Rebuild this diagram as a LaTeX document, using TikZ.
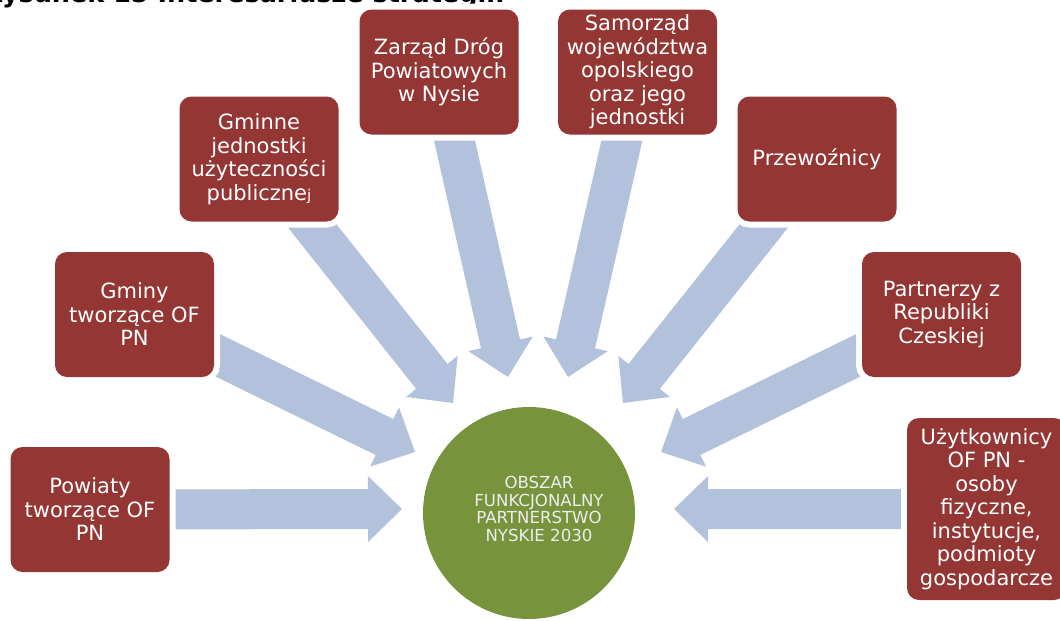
\documentclass[tikz,border=0pt]{standalone}
\usepackage{fontspec}
\setmainfont{DejaVu Sans}
\usetikzlibrary{calc}
\pgfdeclarelayer{background}
\pgfsetlayers{background,main}

\definecolor{boxred}{HTML}{943634}
\definecolor{hubgreen}{HTML}{77933C}
\definecolor{arrowblue}{HTML}{B3C2DC}

\tikzset{
  stakeholder/.style={rectangle, rounded corners=12pt, fill=boxred, text=white,
    align=center, minimum width=159pt, minimum height=125pt, inner sep=1pt,
    font=\fontsize{21}{23.5}\selectfont,
    preaction={draw=white, line width=12pt}},
  hub/.style={circle, fill=hubgreen, minimum size=212pt, inner sep=0pt},
  hublabel/.style={text=white!93!black, align=center, inner sep=0pt,
    font=\fontsize{16.6}{17.6}\selectfont},
  flow/.style={fill=arrowblue},
  caption/.style={anchor=base west, font=\bfseries\fontsize{25.5}{26}\selectfont},
}

% block arrow from the centre of #1 to the point #2
\newcommand{\flowarrow}[2]{%
  \coordinate (fh) at ($(#2)!34pt!(#1)$);
  \fill[flow] ($(#1)!20pt!90:(#2)$) -- ($(fh)!20pt!90:(#2)$)
    -- ($(fh)!33pt!90:(#2)$) -- (#2) -- ($(fh)!33pt!-90:(#2)$)
    -- ($(fh)!20pt!-90:(#2)$) -- ($(#1)!20pt!-90:(#2)$) -- cycle;}

\begin{document}
\begin{tikzpicture}[x=1pt, y=-1pt]
\useasboundingbox (0,0) rectangle (1060,621);
\clip (0,0) rectangle (1060,621);

\node[caption] (title) at (-20,2.5) {Rysunek 15 Interesariusze strategii.};

% centre of the diagram
\node[hub] (hub) at (529,513) {};
\node[hublabel] (hubtext) at (539,509) {OBSZAR\\FUNKCJONALNY\\PARTNERSTWO\\NYSKIE 2030};

% stakeholders
\node[stakeholder] (b1) at (90,509.5) {Powiaty\\tworzące OF\\PN};
\node[stakeholder] (b2) at (134.5,314.5) {Gminy\\tworzące OF\\PN};
\node[stakeholder] (b3) at (259,159) {Gminne\\jednostki\\użyteczności\\publiczne{\fontsize{15}{15}\selectfont j}};
\node[stakeholder] (b4) at (439,72) {Zarząd Dróg\\Powiatowych\\w Nysie};
\node[stakeholder] (b5) at (637.5,72) {Samorząd\\województwa\\opolskiego\\oraz jego\\jednostki};
\node[stakeholder] (b6) at (817,159) {Przewoźnicy};
\node[stakeholder] (b7) at (941.5,314.5) {Partnerzy z\\Republiki\\Czeskiej};
\node[stakeholder, minimum height=182pt] (b8) at (986.5,509) {Użytkownicy\\OF PN -\\osoby\\fizyczne,\\instytucje,\\podmioty\\gospodarcze};

% arrow tips around the hub
\coordinate (e1) at (402,509);
\coordinate (e2) at (415,452);
\coordinate (e3) at (453,403);
\coordinate (e4) at (508,377);
\coordinate (e5) at (568,377);
\coordinate (e6) at (623,403);
\coordinate (e7) at (661,452);
\coordinate (e8) at (674,509);

\begin{pgfonlayer}{background}
  \flowarrow{b1}{e1}
  \flowarrow{b2}{e2}
  \flowarrow{b3}{e3}
  \flowarrow{b4}{e4}
  \flowarrow{b5}{e5}
  \flowarrow{b6}{e6}
  \flowarrow{b7}{e7}
  \flowarrow{b8}{e8}
\end{pgfonlayer}
\end{tikzpicture}
\end{document}
